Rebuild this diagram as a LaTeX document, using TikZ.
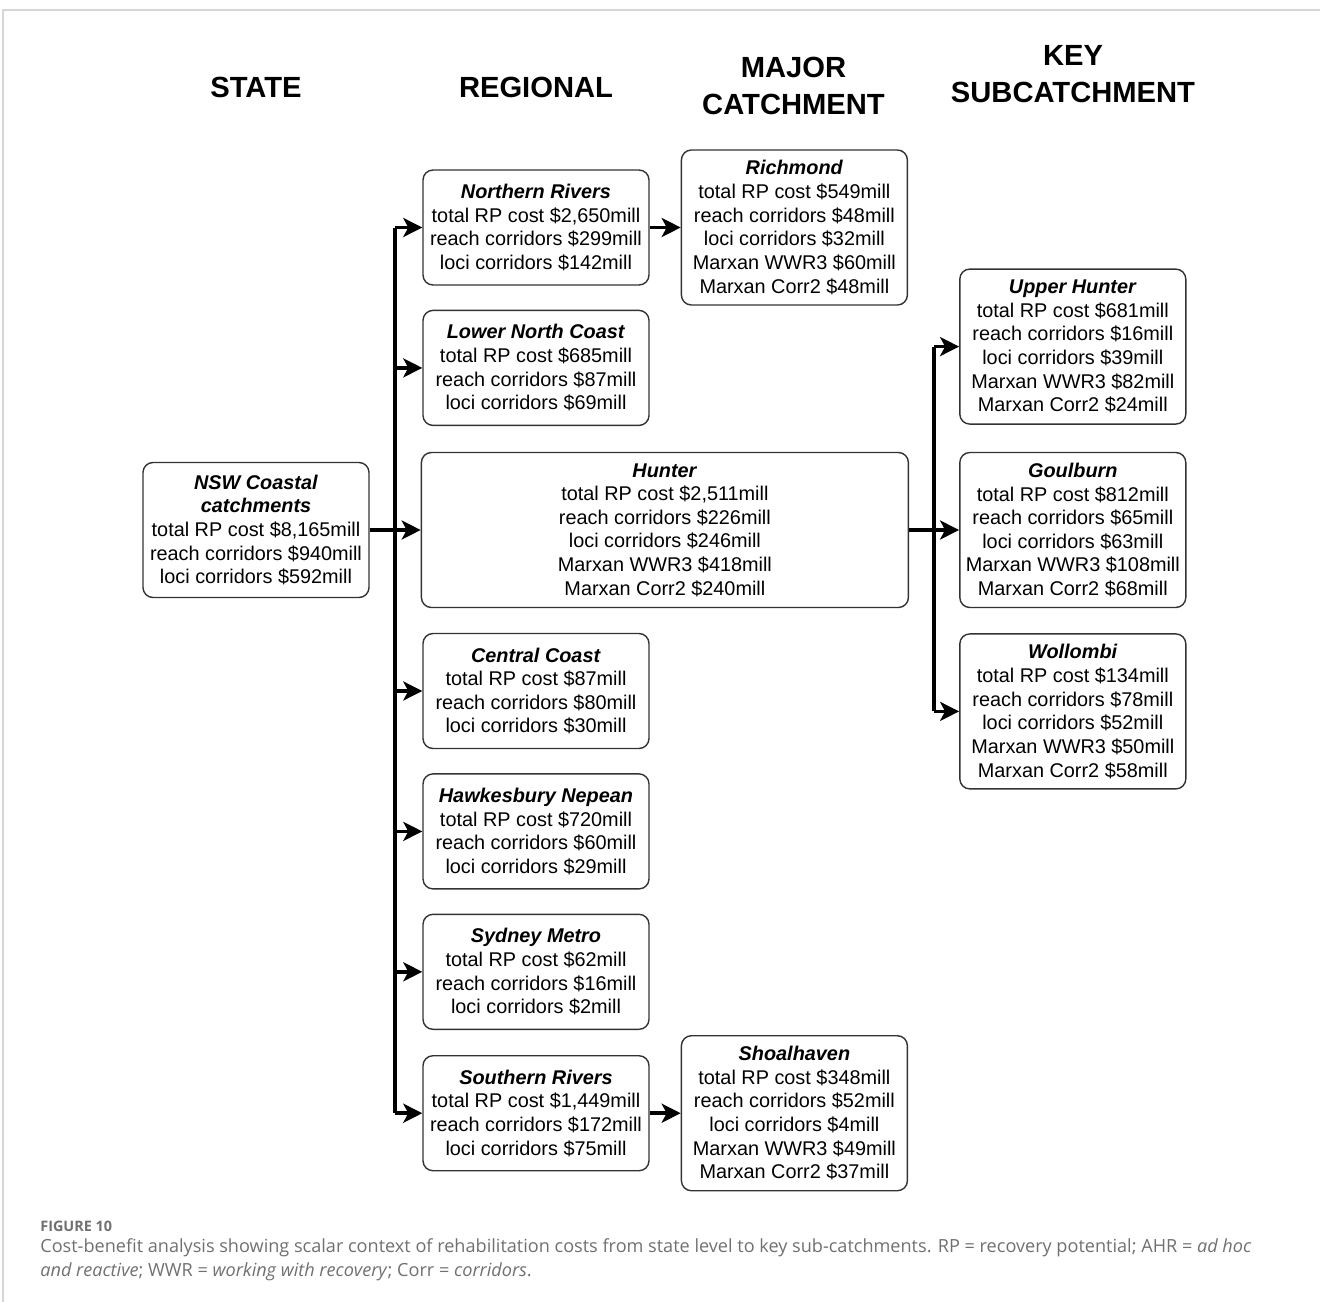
\documentclass[tikz,border=0pt]{standalone}
\usepackage{fontspec}
\setmainfont{Liberation Sans}
\newfontfamily\capfont{Open Sans}
\usepackage{xcolor}
\usepackage{tikz}
\definecolor{boxline}{RGB}{51, 51, 51}
\definecolor{framegray}{RGB}{214, 214, 214}
\definecolor{capgray}{RGB}{112, 112, 112}
\usetikzlibrary{arrows.meta, positioning, calc}

\begin{document}
\begin{tikzpicture}[
    costbox/.style={rectangle, draw=boxline, line width=0.8pt, rounded corners=0.2cm,
                    minimum width=4.52cm, minimum height=2.3cm, align=center, inner sep=2pt,
                    font=\fontsize{11.3}{13.45}\selectfont},
    tallbox/.style={costbox, minimum height=3.1cm},
    heading/.style={align=center, font=\fontsize{16.6}{20.8}\selectfont\bfseries},
    conn/.style={line width=2.1pt, -{Stealth[length=0.38cm, width=0.38cm, inset=0.1cm]}},
    bus/.style={line width=2.1pt}
]
    \useasboundingbox (0,0) rectangle (26.4,-26.04);
    % frame
    \draw[framegray, line width=1.2pt] (0.06,-26.04) -- (0.06,-0.2) -- (26.4,-0.2);

    % column headings
    \node[heading] (hstate) at (5.12,-1.74) {STATE};
    \node[heading] (hreg) at (10.72,-1.74) {REGIONAL};
    \node[heading] (hmajor) at (15.87,-1.72) {MAJOR\\CATCHMENT};
    \node[heading] (hkey) at (21.46,-1.48) {KEY\\SUBCATCHMENT};

    % state
    \node[costbox, minimum height=2.7cm] (nsw) at (5.12,-10.6)
        {\textbf{\textit{NSW Coastal}}\\\textbf{\textit{catchments}}\\total RP cost \$8,165mill\\reach corridors \$940mill\\loci corridors \$592mill};

    % regional
    \node[costbox] (nr) at (10.72,-4.55)
        {\textbf{\textit{Northern Rivers}}\\total RP cost \$2,650mill\\reach corridors \$299mill\\loci corridors \$142mill};
    \node[costbox, below=0.48cm of nr] (lnc)
        {\textbf{\textit{Lower North Coast}}\\total RP cost \$685mill\\reach corridors \$87mill\\loci corridors \$69mill};
    \node[tallbox, right=1.02cm of nsw, minimum width=9.74cm] (hunter)
        {\textbf{\textit{Hunter}}\\total RP cost \$2,511mill\\reach corridors \$226mill\\loci corridors \$246mill\\Marxan WWR3 \$418mill\\Marxan Corr2 \$240mill};
    \node[costbox] (cc) at (10.72,-13.82)
        {\textbf{\textit{Central Coast}}\\total RP cost \$87mill\\reach corridors \$80mill\\loci corridors \$30mill};
    \node[costbox, below=0.48cm of cc] (hn)
        {\textbf{\textit{Hawkesbury Nepean}}\\total RP cost \$720mill\\reach corridors \$60mill\\loci corridors \$29mill};
    \node[costbox, below=0.48cm of hn] (sm)
        {\textbf{\textit{Sydney Metro}}\\total RP cost \$62mill\\reach corridors \$16mill\\loci corridors \$2mill};
    \node[costbox, below=0.5cm of sm] (sr)
        {\textbf{\textit{Southern Rivers}}\\total RP cost \$1,449mill\\reach corridors \$172mill\\loci corridors \$75mill};

    % major catchment
    \node[tallbox, right=0.62cm of nr] (rich)
        {\textbf{\textit{Richmond}}\\total RP cost \$549mill\\reach corridors \$48mill\\loci corridors \$32mill\\Marxan WWR3 \$60mill\\Marxan Corr2 \$48mill};
    \node[tallbox, right=0.62cm of sr] (shoal)
        {\textbf{\textit{Shoalhaven}}\\total RP cost \$348mill\\reach corridors \$52mill\\loci corridors \$4mill\\Marxan WWR3 \$49mill\\Marxan Corr2 \$37mill};

    % key subcatchment
    \node[tallbox, right=1.0cm of hunter] (gb)
        {\textbf{\textit{Goulburn}}\\total RP cost \$812mill\\reach corridors \$65mill\\loci corridors \$63mill\\Marxan WWR3 \$108mill\\Marxan Corr2 \$68mill};
    \node[tallbox, above=0.54cm of gb] (uh)
        {\textbf{\textit{Upper Hunter}}\\total RP cost \$681mill\\reach corridors \$16mill\\loci corridors \$39mill\\Marxan WWR3 \$82mill\\Marxan Corr2 \$24mill};
    \node[tallbox, below=0.5cm of gb] (wol)
        {\textbf{\textit{Wollombi}}\\total RP cost \$134mill\\reach corridors \$78mill\\loci corridors \$52mill\\Marxan WWR3 \$50mill\\Marxan Corr2 \$58mill};

    % connectors
    \coordinate (busA) at ($(nsw.east)!0.5!(hunter.west)$);
    \coordinate (busB) at ($(hunter.east)!0.5!(gb.west)$);
    \draw[conn] (nsw) -- (hunter);
    \draw[bus] (busA |- nr) -- (busA |- sr);
    \foreach \reg in {nr, lnc, cc, hn, sm, sr}
        \draw[conn] (busA |- \reg) -- (\reg.west);
    \draw[conn] (nr) -- (rich);
    \draw[conn] (sr) -- (shoal);
    \draw[conn] (hunter) -- (gb);
    \draw[bus] (busB |- uh) -- (busB |- wol);
    \foreach \sub in {uh, wol}
        \draw[conn] (busB |- \sub) -- (\sub.west);

    % caption
    \node[anchor=west, inner sep=0pt, text=capgray, font=\capfont\bfseries\fontsize{8.2}{10}\selectfont] (figlabel) at (0.8,-24.52) {FIGURE 10};
    \node[anchor=west, inner sep=0pt, align=left, text=capgray, font=\capfont\fontsize{10.3}{13.7}\selectfont] (caption) at (0.8,-25.2)
        {Cost-benefit analysis showing scalar context of rehabilitation costs from state level to key sub-catchments. RP = recovery potential; AHR = \textit{ad hoc}\\
         \textit{and reactive}; WWR = \textit{working with recovery}; Corr = \textit{corridors}.};
\end{tikzpicture}
\end{document}
